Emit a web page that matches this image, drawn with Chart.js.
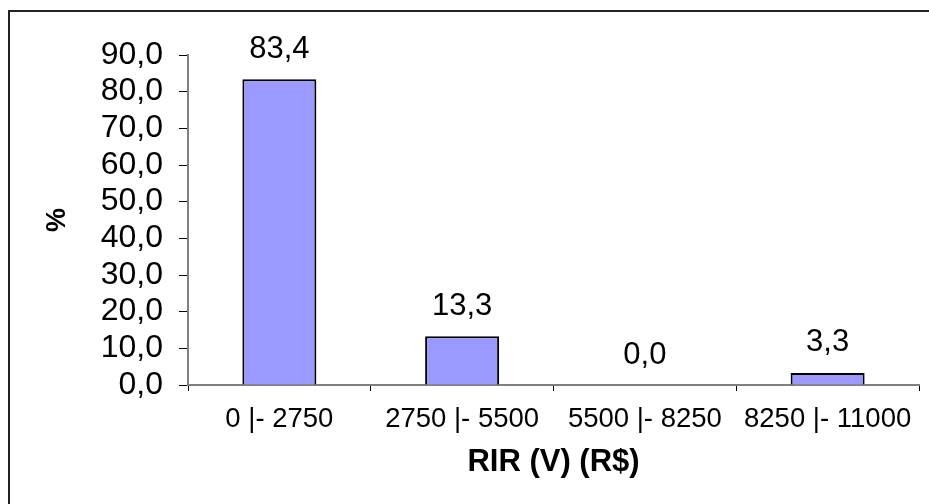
<!DOCTYPE html>
<html>
<head>
<meta charset="utf-8">
<script src="https://cdn.jsdelivr.net/npm/chart.js@4.4.0/dist/chart.umd.min.js"></script>
<style>
  html, body { margin: 0; padding: 0; background: #fff; }
  #wrap { width: 929px; height: 504px; }
</style>
</head>
<body>
<div id="wrap"><canvas id="chart"></canvas></div>
<script>
// Chart data
const categories = ['0 |- 2750', '2750 |- 5500', '5500 |- 8250', '8250 |- 11000'];
const percentages = [83.4, 13.3, 0.0, 3.3];
const yMin = 0;
const yMax = 90;
const yStep = 10;
const xTitle = 'RIR (V) (R$)';
const yTitle = '%';

const FONT = '"Liberation Sans", Arial, sans-serif';

// decimal comma like the original
function fmt(v) {
    return Number(v).toFixed(1).replace('.', ',');
}

// Frame lines (left + top) of the original picture
const framePlugin = {
    id: 'frame',
    beforeDraw(chart) {
        const ctx = chart.ctx;
        ctx.save();
        ctx.fillStyle = '#fff';
        ctx.fillRect(0, 0, chart.width, chart.height);
        ctx.fillStyle = '#222';
        ctx.fillRect(8, 10, 2, chart.height - 10);
        ctx.fillRect(8, 10, chart.width - 8, 2);
        ctx.restore();
    }
};

// Value labels above each bar
const valueLabels = {
    id: 'valueLabels',
    afterDatasetsDraw(chart) {
        const ctx = chart.ctx;
        const meta = chart.getDatasetMeta(0);
        ctx.save();
        ctx.font = '31px ' + FONT;
        ctx.fillStyle = '#000';
        ctx.textAlign = 'center';
        ctx.textBaseline = 'middle';
        meta.data.forEach((bar, i) => {
            ctx.fillText(fmt(percentages[i]), bar.x, bar.y - 30);
        });
        ctx.restore();
    }
};

const ctx = document.getElementById('chart').getContext('2d');
new Chart(ctx, {
    type: 'bar',
    data: {
        labels: categories,
        datasets: [{
            data: percentages,
            backgroundColor: '#9999FF',
            borderColor: '#000',
            borderWidth: 2,
            categoryPercentage: 1,
            barPercentage: 0.405
        }]
    },
    options: {
        responsive: true,
        maintainAspectRatio: false,
        animation: false,
        layout: {
            padding: { top: 55, right: 10, bottom: 0, left: 0 }
        },
        plugins: {
            legend: { display: false },
            tooltip: { enabled: false }
        },
        scales: {
            x: {
                afterFit(scale) { scale.height = 119; },
                grid: {
                    drawOnChartArea: false,
                    drawTicks: true,
                    tickLength: 6,
                    color: '#000',
                    offset: true
                },
                border: { color: '#808080', width: 2 },
                ticks: {
                    color: '#000',
                    font: { family: FONT, size: 27.5 },
                    padding: 12,
                    maxRotation: 0,
                    autoSkip: false
                },
                title: {
                    display: true,
                    text: xTitle,
                    color: '#000',
                    font: { family: FONT, size: 31, weight: 'bold' },
                    padding: { top: 0, bottom: 23 }
                }
            },
            y: {
                min: yMin,
                max: yMax,
                afterFit(scale) { scale.width = 188; },
                grid: {
                    drawOnChartArea: false,
                    drawTicks: true,
                    tickLength: 9,
                    color: '#000'
                },
                border: { color: '#808080', width: 2 },
                ticks: {
                    stepSize: yStep,
                    autoSkip: false,
                    color: '#000',
                    font: { family: FONT, size: 32 },
                    padding: 16,
                    callback: v => fmt(v)
                },
                title: {
                    display: true,
                    text: yTitle,
                    color: '#000',
                    font: { family: FONT, size: 27, weight: 'bold' },
                    padding: { top: 41, bottom: 0 }
                }
            }
        }
    },
    plugins: [framePlugin, valueLabels]
});
</script>
</body>
</html>
